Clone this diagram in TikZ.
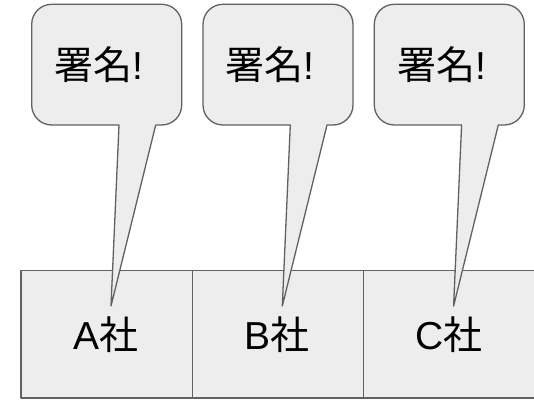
\documentclass[tikz,border=0pt]{standalone}
\usepackage{fontspec}
\setmainfont{Liberation Sans}
\newfontfamily\cjk{Noto Sans CJK JP}
\begin{document}
\begin{tikzpicture}[x=1pt,y=1pt,
  shapeline/.style={draw=black!62, fill=black!7, line width=1.3pt, line join=round},
  bigtext/.style={font=\fontsize{39}{44}\selectfont, inner sep=0pt}]
\useasboundingbox (0,0) rectangle (534,399);
\clip (0,0) rectangle (534,399);
% company boxes
\foreach \i/\lab in {0/A,1/B,2/C}{
  \pgfmathsetmacro{\dx}{171.3*\i}
  \draw[shapeline] (21+\dx,1) rectangle (192.3+\dx,128.3);
  \node[bigtext] (box\lab) at (106+\dx,64) {\lab{\cjk 社}};
}
% callouts
\foreach \i/\lab in {0/A,1/B,2/C}{
  \pgfmathsetmacro{\dx}{171.3*\i}
  \coordinate (tip\lab) at (111+\dx,93);
  \draw[shapeline] (119+\dx,274) -- (51.7+\dx,274)
    arc[start angle=270,end angle=180,radius=20] -- (31.7+\dx,374.7)
    arc[start angle=180,end angle=90,radius=20] -- (161.7+\dx,394.7)
    arc[start angle=90,end angle=0,radius=20] -- (181.7+\dx,294)
    arc[start angle=0,end angle=-90,radius=20] -- (155.7+\dx,274)
    -- (tip\lab) -- cycle;
  \node[bigtext] (say\lab) at (99+\dx,334) {{\cjk 署名}!};
}
\end{tikzpicture}
\end{document}
